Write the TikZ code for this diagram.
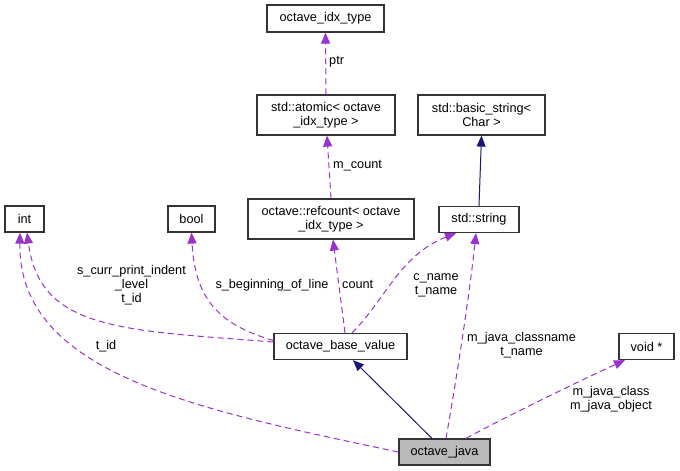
\documentclass[tikz,border=0pt]{standalone}
\usepackage{fontspec}
\setmainfont{Liberation Sans}
\usetikzlibrary{arrows.meta}
\definecolor{memberclr}{HTML}{9A32CD}
\definecolor{baseclr}{HTML}{191970}
\begin{document}
\begin{tikzpicture}[x=1pt, y=-1pt,
  every node/.style={font=\fontsize{12.7}{14}\selectfont},
  cls/.style={draw=black!80, line width=1.2pt, rectangle, inner sep=0pt, align=center},
  lbl/.style={inner sep=0pt, align=center},
  member/.style={draw=memberclr, line width=1pt, dash pattern=on 6pt off 4pt,
    -{Triangle[length=11pt, width=9pt, fill=memberclr]}},
  inherit/.style={draw=baseclr, line width=1pt,
    -{Triangle[length=11pt, width=9pt, fill=baseclr]}}]
\useasboundingbox (0,0) rectangle (680,471);
% classes
\node[cls, minimum width=117pt, minimum height=27pt] (idx) at (325.5,18.5){octave\_idx\_type};
\node[cls, minimum width=138pt, minimum height=40pt] (atomic) at (326,115){std::atomic< octave\\\_idx\_type >};
\node[cls, minimum width=127pt, minimum height=40pt] (basicstr) at (481.5,115){std::basic\_string<\\Char >};
\node[cls, minimum width=166pt, minimum height=40pt] (refcount) at (331,219){octave::refcount< octave\\\_idx\_type >};
\node[cls, minimum width=80pt, minimum height=26pt] (stdstr) at (479,219.5){std::string};
\node[cls, minimum width=39pt, minimum height=26pt] (int) at (24.5,219){int};
\node[cls, minimum width=47pt, minimum height=26pt] (bool) at (191.5,219){bool};
\node[cls, minimum width=133pt, minimum height=26pt] (base) at (340.5,346.5){octave\_base\_value};
\node[cls, minimum width=55pt, minimum height=26pt] (voidp) at (646.5,346.5){void *};
\node[cls, minimum width=91pt, minimum height=26pt, fill=black!27] (java) at (444.5,452){octave\_java};
% edges
\draw[member] (atomic.north) -- (idx.south);
\draw[member] (refcount.north) -- ([xshift=1pt]atomic.south);
\draw[inherit] (stdstr.north) -- (basicstr.south);
\draw[member] ([xshift=4.5pt]base.north) -- ([xshift=2pt]refcount.south);
\draw[member] ([xshift=11.5pt]base.north) .. controls (385,300) and (400,255) .. ([xshift=-23pt]stdstr.south);
\draw[member] ([yshift=4.5pt]base.west) .. controls (120,330) and (40,330) .. ([xshift=2.5pt]int.south);
\draw[member] ([yshift=6pt]base.west) .. controls (220,325) and (195,300) .. (bool.south);
\draw[inherit] ([xshift=-12.5pt]java.north) -- ([xshift=12.5pt]base.south);
\draw[member] (java.west) .. controls (200,410) and (18,375) .. ([xshift=-4.5pt]int.south);
\draw[member] ([xshift=1.5pt]java.north) .. controls (458,370) and (470,290) .. ([xshift=-3pt]stdstr.south);
\draw[member] ([xshift=21.5pt]java.north) .. controls (490,425) and (560,390) .. ([xshift=-21.5pt]voidp.south);
% labels
\node[lbl, anchor=west] (lptr) at (329,62){ptr};
\node[lbl, anchor=west] (lmcount) at (333,166){m\_count};
\node[lbl, anchor=west] (lcount) at (342,284){count};
\node[lbl] (lcname) at (436,285){c\_name\\t\_name};
\node[lbl] (lclassname) at (521.5,345){m\_java\_classname\\t\_name};
\node[lbl] (ljava) at (611,399.5){m\_java\_class\\m\_java\_object};
\node[lbl] (lindent) at (131.5,285){s\_curr\_print\_indent\\\_level\\t\_id};
\node[lbl] (lline) at (272,285){s\_beginning\_of\_line};
\node[lbl] (ltid) at (106,346){t\_id};
\end{tikzpicture}
\end{document}
